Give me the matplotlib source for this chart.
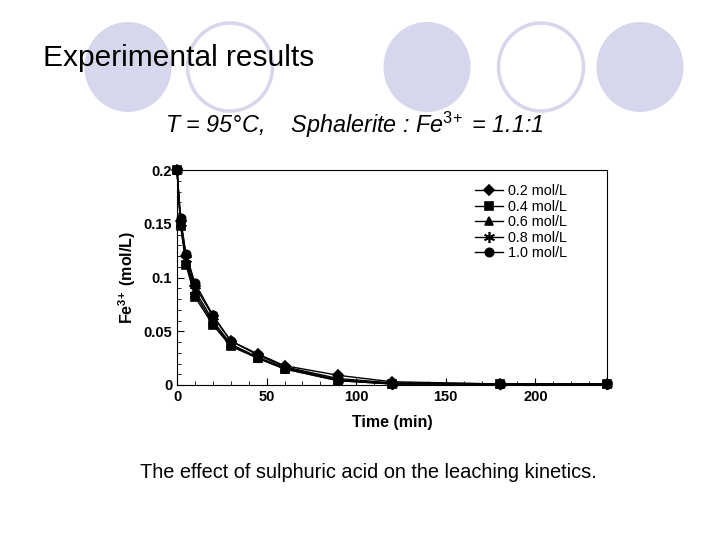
import matplotlib
matplotlib.use('Agg')
import matplotlib.pyplot as plt
from matplotlib.patches import Ellipse
from matplotlib.ticker import MultipleLocator

plt.rcParams['font.family'] = ['Liberation Sans', 'DejaVu Sans']
plt.rcParams['mathtext.fontset'] = 'custom'
plt.rcParams['mathtext.rm'] = 'Liberation Sans'
plt.rcParams['mathtext.it'] = 'Liberation Sans:italic'
plt.rcParams['mathtext.bf'] = 'Liberation Sans:bold'

# donnees
temps = [0, 2, 5, 10, 20, 30, 45, 60, 90, 120, 180, 240]
c02 = [0.200, 0.153, 0.120, 0.092, 0.064, 0.041, 0.029, 0.018, 0.009, 0.003, 0.001, 0.001]
c04 = [0.200, 0.148, 0.112, 0.082, 0.056, 0.036, 0.025, 0.015, 0.004, 0.001, 0.001, 0.001]
c06 = [0.200, 0.150, 0.115, 0.085, 0.058, 0.037, 0.025, 0.015, 0.004, 0.001, 0.001, 0.001]
c08 = [0.200, 0.151, 0.117, 0.088, 0.060, 0.038, 0.026, 0.016, 0.005, 0.001, 0.001, 0.001]
c10 = [0.200, 0.155, 0.122, 0.095, 0.065, 0.041, 0.028, 0.017, 0.006, 0.002, 0.001, 0.001]
series = [c02, c04, c06, c08, c10]
labels = ['0.2 mol/L', '0.4 mol/L', '0.6 mol/L', '0.8 mol/L', '1.0 mol/L']
markers = ['D', 's', '^', (6, 2, 0), 'o']
tailles = [5, 6, 6, 8, 6]

fig = plt.figure(figsize=(7.2, 5.4), dpi=100)

# cercles decoratifs de la diapo
bg = fig.add_axes([0, 0, 1, 1])
bg.set_xlim(0, 720)
bg.set_ylim(540, 0)
bg.axis('off')
lav = '#d6d6ec'
for cx, plein in [(128, True), (230, False), (427, True), (541, False), (640, True)]:
    if plein:
        bg.add_patch(Ellipse((cx, 67), 87, 90, facecolor=lav, edgecolor='none'))
    else:
        bg.add_patch(Ellipse((cx, 67), 85, 88, facecolor='white', edgecolor=lav, lw=2.5))

fig.text(43 / 720, 1 - 58 / 540, 'Experimental results', fontsize=21.5, va='center', ha='left')
fig.text(165 / 720, 1 - 125 / 540, r'T = 95°C,    Sphalerite : Fe$^{3\!+}$ = 1.1:1',
         fontsize=16.8, style='italic', va='center', ha='left')
fig.text(140 / 720, 1 - 472 / 540, 'The effect of sulphuric acid on the leaching kinetics.',
         fontsize=14.4, va='center', ha='left')

ax = fig.add_axes([177 / 720, 1 - 385 / 540, 430 / 720, 215 / 540])
for y, lab, m, ms in zip(series, labels, markers, tailles):
    ax.plot(temps, y, color='black', lw=1, marker=m, ms=ms, mew=1.2, label=lab, clip_on=False)

ax.set_xlim(0, 240)
ax.set_ylim(0, 0.2)
ax.xaxis.set_major_locator(MultipleLocator(50))
ax.xaxis.set_minor_locator(MultipleLocator(10))
ax.yaxis.set_major_locator(MultipleLocator(0.05))
ax.yaxis.set_minor_locator(MultipleLocator(0.01))
ax.set_yticks([0, 0.05, 0.1, 0.15, 0.2])
ax.set_yticklabels(['0', '0.05', '0.1', '0.15', '0.2'])
ax.tick_params(which='both', direction='in', labelsize=10.5)
ax.tick_params(which='major', length=5)
ax.tick_params(which='minor', length=3)
for t in ax.get_xticklabels() + ax.get_yticklabels():
    t.set_fontweight('bold')
ax.set_xlabel('Time (min)', fontsize=11.5, fontweight='bold', labelpad=8)
ax.set_ylabel(r'Fe$^{\mathbf{3\!+}}$ (mol/L)', fontsize=11.5, fontweight='bold')
ax.legend(loc='upper right', frameon=False, fontsize=10.4, handlelength=2.0,
          labelspacing=0.1, borderaxespad=0.6, handletextpad=0.3,
          bbox_to_anchor=(0.94, 1.0))

fig.savefig('out.png', dpi=100)
